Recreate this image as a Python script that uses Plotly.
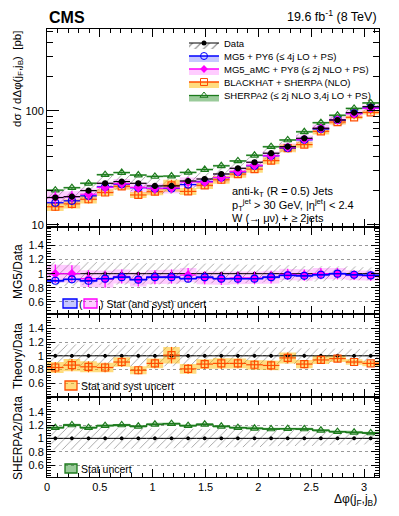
import numpy as np
import plotly.graph_objects as go

# 20 bins of delta phi between 0 and pi
n_bins = 20
edges = np.linspace(0, np.pi, n_bins + 1)
centers = 0.5 * (edges[:-1] + edges[1:])
half = 0.5 * (edges[1] - edges[0])

# measured cross section [pb] and relative uncertainties
data = [17.4, 17.7, 20.0, 23.2, 24.0, 23.2, 22.0, 22.0, 24.3, 25.3,
        28.0, 31.4, 35.5, 42.6, 48.6, 57.6, 70.5, 83.3, 96.6, 109.0]
data_stat = [0.02] * 20
data_err = [0.17, 0.17, 0.16, 0.16, 0.15, 0.15, 0.15, 0.15, 0.14, 0.14,
            0.14, 0.13, 0.13, 0.12, 0.12, 0.11, 0.11, 0.10, 0.10, 0.09]

# predictions / data
mg5_ratio = [0.90, 0.92, 0.90, 0.93, 0.95, 0.915, 0.95, 0.95, 0.93, 0.95,
             0.93, 0.93, 0.93, 0.95, 0.975, 0.97, 0.985, 1.0, 0.985, 0.975]
mg5_err = [0.02] * 20
amc_ratio = [1.0, 1.0, 0.93, 0.92, 0.96, 0.92, 0.95, 0.96, 0.98, 0.94,
             0.93, 0.94, 0.94, 0.95, 0.99, 0.98, 1.0, 1.0, 0.98, 0.97]
amc_err = [0.13, 0.12, 0.12, 0.12, 0.10, 0.10, 0.10, 0.10, 0.10, 0.09,
           0.09, 0.09, 0.09, 0.09, 0.08, 0.08, 0.08, 0.08, 0.07, 0.07]
bh_ratio = [0.83, 0.865, 0.84, 0.83, 0.91, 0.79, 0.89, 1.01, 0.81, 0.88,
            0.89, 0.89, 0.87, 0.86, 0.97, 0.88, 0.94, 0.96, 0.91, 0.89]
bh_err = [0.08, 0.09, 0.08, 0.07, 0.07, 0.06, 0.07, 0.12, 0.07, 0.07,
          0.08, 0.07, 0.07, 0.07, 0.08, 0.06, 0.06, 0.05, 0.04, 0.04]
sherpa_ratio = [1.16, 1.20, 1.16, 1.19, 1.20, 1.18, 1.21, 1.22, 1.19, 1.21,
                1.18, 1.16, 1.15, 1.14, 1.145, 1.14, 1.12, 1.10, 1.09, 1.08]
sherpa_err = [0.02] * 20

names = ["Data", "MG5 + PY6 (≤ 4j LO + PS)", "MG5_aMC + PY8 (≤ 2j NLO + PS)",
         "BLACKHAT + SHERPA (NLO)", "SHERPA2 (≤ 2j NLO 3,4j LO + PS)"]

BLUE, MAG, ORA, GRN = "#0000ff", "#ff00ff", "#ff4d00", "#1c7a1c"
BLUE_B, MAG_B, ORA_B, GRN_B = ("rgba(0,0,255,0.22)", "rgba(255,0,255,0.2)",
                               "rgba(255,185,0,0.5)", "rgba(30,140,30,0.45)")
FONT = "Liberation Sans"

data = np.array(data)
# the page body has an 8 px margin, so the figure is 8 px smaller than the window
W, H = 391, 508
ML, MR, MT, MB = 39, 20, 21, 39
PW, PH = W - ML - MR, H - MT - MB
X0, Y1 = 47, 477  # plot area left / bottom in window pixels


def px(x):
    return (x - X0) / PW


def py(y):
    return (Y1 - y) / PH


def band(lo, hi):
    xs, ylo, yhi = [], [], []
    for i in range(n_bins):
        xs += [edges[i], edges[i + 1]]
        ylo += [lo[i], lo[i]]
        yhi += [hi[i], hi[i]]
    return xs + xs[::-1], yhi + ylo[::-1]


fig = go.Figure()


def add_band(lo, hi, ax, color=None, hatch=False):
    x, y = band(lo, hi)
    kw = dict(fillcolor=color)
    if hatch:
        kw = dict(fillcolor="rgba(0,0,0,0)",
                  fillpattern=dict(shape="/", fgcolor="#444", bgcolor="rgba(0,0,0,0)",
                                   size=6, solidity=0.15))
    fig.add_trace(go.Scatter(x=x, y=y, fill="toself", mode="lines", line=dict(width=0),
                             xaxis="x" + ax, yaxis="y" + ax, showlegend=False,
                             hoverinfo="skip", **kw))


def add_step(vals, ax, color):
    fig.add_trace(go.Scatter(x=edges, y=list(vals) + [vals[-1]], mode="lines",
                             line=dict(color=color, width=1.3, shape="hv"),
                             xaxis="x" + ax, yaxis="y" + ax, showlegend=False))


def add_points(vals, err, ax, color, symbol, size, lw=1.2):
    fig.add_trace(go.Scatter(
        x=centers, y=vals, mode="markers", xaxis="x" + ax, yaxis="y" + ax, showlegend=False,
        marker=dict(symbol=symbol, size=size, color=color, line=dict(color=color, width=lw)),
        error_x=dict(type="constant", value=half, width=0, color=color, thickness=lw),
        error_y=dict(type="data", array=err, width=0, color=color, thickness=lw)))


r = lambda a: np.array(a)
mg5_main, amc_main = data * r(mg5_ratio), data * r(amc_ratio)
bh_main, sh_main = data * r(bh_ratio), data * r(sherpa_ratio)

# ---- main panel
add_band(data * (1 - r(data_err)), data * (1 + r(data_err)), "", hatch=True)
add_band(mg5_main * (1 - r(mg5_err)), mg5_main * (1 + r(mg5_err)), "", BLUE_B)
add_band(amc_main * (1 - r(amc_err)), amc_main * (1 + r(amc_err)), "", MAG_B)
add_band(bh_main * (1 - r(bh_err)), bh_main * (1 + r(bh_err)), "", ORA_B)
add_band(sh_main * (1 - r(sherpa_err)), sh_main * (1 + r(sherpa_err)), "", GRN_B)
add_points(bh_main, bh_main * r(bh_err), "", ORA, "square-open", 7)
add_points(sh_main, sh_main * r(sherpa_err), "", GRN, "triangle-up-open", 7)
add_points(mg5_main, mg5_main * r(mg5_err), "", BLUE, "circle-open", 7)
add_points(amc_main, amc_main * r(amc_err), "", MAG, "diamond", 6)
add_points(data, data * r(data_stat), "", "black", "circle", 5)

ones = np.ones(n_bins)
# ---- MG5 / data
add_band(1 - r(data_err), 1 + r(data_err), "2", hatch=True)
add_band(r(amc_ratio) - r(amc_err), r(amc_ratio) + r(amc_err), "2", MAG_B)
add_band(r(mg5_ratio) - r(mg5_err), r(mg5_ratio) + r(mg5_err), "2", BLUE_B)
add_points(ones, r(data_stat), "2", "black", "circle", 3, 1)
add_points(amc_ratio, amc_err, "2", MAG, "diamond", 6)
add_step(mg5_ratio, "2", BLUE)
add_points(mg5_ratio, None, "2", BLUE, "circle-open", 7)

# ---- theory / data
add_band(1 - r(data_err), 1 + r(data_err), "3", hatch=True)
add_band(r(bh_ratio) - r(bh_err), r(bh_ratio) + r(bh_err), "3", ORA_B)
add_points(ones, r(data_stat), "3", "black", "circle", 3, 1)
add_points(bh_ratio, bh_err, "3", ORA, "square-open", 7)

# ---- SHERPA2 / data
add_band(1 - r(data_err), 1 + r(data_err), "4", hatch=True)
add_band(r(sherpa_ratio) - r(sherpa_err), r(sherpa_ratio) + r(sherpa_err), "4", GRN_B)
add_points(ones, r(data_stat), "4", "black", "circle", 3, 1)
add_step(sherpa_ratio, "4", GRN)
add_points(sherpa_ratio, None, "4", GRN, "triangle-up-open", 7)

# ---- legend entries, one legend per entry to get ROOT-like spacing
leg_style = [
    dict(line=dict(color="black", width=1), marker=dict(symbol="circle", size=5, color="black"),
         fillcolor="rgba(0,0,0,0)",
         fillpattern=dict(shape="/", fgcolor="#222", bgcolor="rgba(0,0,0,0)", size=6, solidity=0.2)),
    dict(line=dict(color=BLUE, width=1.3), fillcolor=BLUE_B,
         marker=dict(symbol="circle-open", size=7, color=BLUE)),
    dict(line=dict(color=MAG, width=1.3), fillcolor=MAG_B,
         marker=dict(symbol="diamond", size=6, color=MAG)),
    dict(line=dict(color=ORA, width=1.3), fillcolor=ORA_B,
         marker=dict(symbol="square-open", size=7, color=ORA)),
    dict(line=dict(color=GRN, width=1.3), fillcolor=GRN_B,
         marker=dict(symbol="triangle-up-open", size=7, color=GRN)),
]
leg_y = [43, 56, 69, 82, 95.5]
legends = {}
for i, (nm, st) in enumerate(zip(names, leg_style)):
    key = "legend" if i == 0 else "legend%d" % (i + 1)
    fig.add_trace(go.Scatter(x=[None], y=[None], mode="lines+markers", fill="toself",
                             name=nm, legend=key, showlegend=True, **st))
    legends[key] = dict(x=px(184), y=py(leg_y[i]), xanchor="left", yanchor="middle",
                        bgcolor="rgba(0,0,0,0)", font=dict(size=9.5, family=FONT, color="black"),
                        borderwidth=0, tracegroupgap=0)

xr = [0, np.pi]
xcommon = dict(range=xr, ticks="inside", ticklen=8, tickcolor="black", showline=True,
               linecolor="black", linewidth=1, mirror="allticks", dtick=0.5, tick0=0,
               minor=dict(ticks="inside", ticklen=4, dtick=0.1, tick0=0, tickcolor="black"),
               showgrid=False, zeroline=False,
               tickfont=dict(size=11, family=FONT, color="black"))
ycommon = dict(ticks="inside", ticklen=8, tickcolor="black", showline=True, linecolor="black",
               linewidth=1, mirror="allticks", zeroline=False,
               tickvals=[0.6, 0.8, 1, 1.2, 1.4], ticktext=["0.6", "0.8", "1", "1.2", "1.4"],
               minor=dict(ticks="inside", ticklen=4, dtick=0.04, tick0=0.6, tickcolor="black"),
               showgrid=True, griddash="dot", gridcolor="#999", gridwidth=1,
               tickfont=dict(size=11, family=FONT, color="black"))

d_main = [py(227), 1]
d1 = [py(314), py(227)]
d2 = [py(397), py(314)]
d3 = [0, py(397)]

fig.update_layout(
    width=W, height=H, margin=dict(l=ML, r=MR, t=MT, b=MB),
    paper_bgcolor="white", plot_bgcolor="white",
    font=dict(family=FONT, color="black"),
    xaxis=dict(xcommon, domain=[0, 1], anchor="y", showticklabels=False),
    xaxis2=dict(xcommon, domain=[0, 1], anchor="y2", matches="x", showticklabels=False),
    xaxis3=dict(xcommon, domain=[0, 1], anchor="y3", matches="x", showticklabels=False),
    xaxis4=dict(xcommon, domain=[0, 1], anchor="y4", matches="x"),
    yaxis=dict(type="log", range=[0.982, 2.719], domain=d_main, anchor="x",
               ticks="inside", ticklen=12, tickcolor="black", showline=True,
               linecolor="black", linewidth=1, mirror="allticks", dtick=1,
               exponentformat="power", showgrid=False, zeroline=False,
               tickfont=dict(size=11, family=FONT, color="black"),
               minor=dict(ticks="inside", ticklen=6, tickcolor="black",
                          tickvals=[20, 30, 40, 50, 60, 70, 80, 90, 200, 300, 400, 500])),
    yaxis2=dict(ycommon, range=[0.43, 1.66], domain=d1, anchor="x2"),
    yaxis3=dict(ycommon, range=[0.40, 1.61], domain=d2, anchor="x3"),
    yaxis4=dict(ycommon, range=[0.42, 1.62], domain=d3, anchor="x4"),
    **legends,
)

ann = [
    dict(text="<b>CMS</b>", x=0, y=py(17), xanchor="left", yanchor="middle", font=dict(size=16)),
    dict(text="19.6 fb<sup>-1</sup> (8 TeV)", x=1, y=py(16), xanchor="right", yanchor="middle",
         font=dict(size=12.5)),
    dict(text="anti-k<sub>T</sub> (R = 0.5) Jets", x=px(230), y=py(192), xanchor="left",
         yanchor="middle", font=dict(size=11)),
    dict(text="p<sub>T</sub><sup>jet</sup> > 30 GeV, |η<sup>jet</sup>| < 2.4", x=px(230), y=py(205),
         xanchor="left", yanchor="middle", font=dict(size=11)),
    dict(text="W (→ μν) + ≥ 2jets", x=px(230), y=py(218), xanchor="left", yanchor="middle",
         font=dict(size=11)),
    dict(text="dσ / dΔφ(j<sub>F</sub>,j<sub>B</sub>)  [pb]", x=px(9), y=1, xanchor="left",
         yanchor="top", textangle=-90, font=dict(size=11.5)),
    dict(text="MG5/Data", x=px(9), y=py(272), xanchor="left", yanchor="middle",
         textangle=-90, font=dict(size=12)),
    dict(text="Theory/Data", x=px(9), y=py(356), xanchor="left", yanchor="middle",
         textangle=-90, font=dict(size=12)),
    dict(text="SHERPA2/Data", x=px(9), y=py(438), xanchor="left", yanchor="middle",
         textangle=-90, font=dict(size=12)),
    dict(text="Δφ(j<sub>F</sub>,j<sub>B</sub>)", x=1, y=py(500), xanchor="right", yanchor="middle",
         font=dict(size=12)),
    dict(text="(", x=px(80.5), y=py(303.5), xanchor="center", yanchor="middle", font=dict(size=10.5)),
    dict(text=") Stat (and syst) uncert", x=px(98), y=py(303.5), xanchor="left", yanchor="middle",
         font=dict(size=10.5)),
    dict(text="Stat and syst uncert", x=px(79), y=py(385.5), xanchor="left", yanchor="middle",
         font=dict(size=10.5)),
    dict(text="Stat uncert", x=px(79), y=py(468.5), xanchor="left", yanchor="middle",
         font=dict(size=10.5)),
]
for a in ann:
    a.update(xref="paper", yref="paper", showarrow=False)
    a["font"].update(family=FONT, color="black")
    fig.add_annotation(**a)

# small legend boxes of the ratio panels
boxes = [(63, 77, 299, 308, BLUE, BLUE_B), (84, 97, 299, 308, MAG, MAG_B),
         (65, 77, 381, 390, ORA, ORA_B), (65, 77, 464, 473, GRN, GRN_B)]
for x0, x1, y0, y1, lc, fc in boxes:
    fig.add_shape(type="rect", xref="paper", yref="paper", x0=px(x0), x1=px(x1),
                  y0=py(y1), y1=py(y0), line=dict(color=lc, width=1.3), fillcolor=fc)

fig.write_html("out.html")
